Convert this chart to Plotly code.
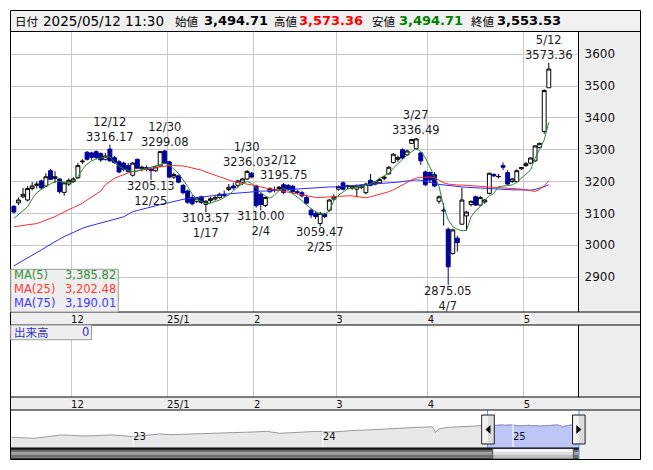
import plotly.graph_objects as go

# reference canvas size and page offset (browser body margin)
W, H = 653, 470
OX, OY = 8, 8
FW, FH = W - OX, H - OY

dates = [
    "2024-11-13", "2024-11-14", "2024-11-15", "2024-11-18", "2024-11-19", "2024-11-20", "2024-11-21",
    "2024-11-22", "2024-11-25", "2024-11-26", "2024-11-27", "2024-11-28", "2024-11-29",
    "2024-12-02", "2024-12-03", "2024-12-04", "2024-12-05", "2024-12-06", "2024-12-09", "2024-12-10",
    "2024-12-11", "2024-12-12", "2024-12-13", "2024-12-16", "2024-12-17", "2024-12-18", "2024-12-19",
    "2024-12-20", "2024-12-23", "2024-12-24", "2024-12-25", "2024-12-26", "2024-12-27", "2024-12-30",
    "2025-01-06", "2025-01-07", "2025-01-08", "2025-01-09", "2025-01-10", "2025-01-14", "2025-01-15",
    "2025-01-16", "2025-01-17", "2025-01-20", "2025-01-21", "2025-01-22", "2025-01-23", "2025-01-24",
    "2025-01-27", "2025-01-28", "2025-01-29", "2025-01-30", "2025-01-31",
    "2025-02-03", "2025-02-04", "2025-02-05", "2025-02-06", "2025-02-07", "2025-02-10", "2025-02-12",
    "2025-02-13", "2025-02-14", "2025-02-17", "2025-02-18", "2025-02-19", "2025-02-20", "2025-02-21",
    "2025-02-25", "2025-02-26", "2025-02-27", "2025-02-28",
    "2025-03-03", "2025-03-04", "2025-03-05", "2025-03-06", "2025-03-07", "2025-03-10", "2025-03-11",
    "2025-03-12", "2025-03-13", "2025-03-14", "2025-03-17", "2025-03-18", "2025-03-19", "2025-03-21",
    "2025-03-24", "2025-03-25", "2025-03-26", "2025-03-27", "2025-03-28", "2025-03-31",
    "2025-04-01", "2025-04-02", "2025-04-03", "2025-04-04", "2025-04-07", "2025-04-08", "2025-04-09",
    "2025-04-10", "2025-04-11", "2025-04-14", "2025-04-15", "2025-04-16", "2025-04-17", "2025-04-18",
    "2025-04-21", "2025-04-22", "2025-04-23", "2025-04-24", "2025-04-25", "2025-04-28", "2025-04-30",
    "2025-05-01", "2025-05-02", "2025-05-07", "2025-05-08", "2025-05-09", "2025-05-12",
]

opens = [
    3122, 3133, 3152, 3142, 3178, 3188, 3202, 3186, 3234, 3210, 3208, 3166, 3192,
    3200, 3212, 3262, 3292, 3290, 3294, 3288, 3270, 3302, 3275, 3262, 3258, 3250, 3220, 3270, 3240, 3244,
    3238, 3234, 3249, 3296,
    3262, 3214, 3218, 3188, 3170, 3150, 3138, 3152, 3128, 3140, 3145, 3150, 3160, 3175, 3186, 3188, 3198,
    3208, 3226,
    3186, 3160, 3125, 3168, 3175, 3178, 3190, 3188, 3185, 3168, 3165, 3150, 3110, 3100, 3068, 3098, 3110, 3145,
    3176, 3196, 3184, 3180, 3176, 3182, 3165, 3204, 3192, 3196, 3210, 3224, 3260, 3270, 3300, 3284, 3320,
    3304, 3290, 3230,
    3228, 3222, 3138, 3110, 3050, 2974, 3022, 3066, 3092, 3128, 3152, 3126, 3136, 3163, 3222, 3215, 3250,
    3228, 3200, 3200, 3240,
    3250, 3258, 3265, 3307, 3357, 3494.71,
]
highs = [
    3126, 3150, 3180, 3186, 3198, 3200, 3206, 3226, 3240, 3232, 3210, 3200, 3210,
    3214, 3258, 3270, 3296, 3294, 3298, 3292, 3290, 3316.17, 3280, 3268, 3262, 3258, 3262, 3272, 3250, 3250,
    3244, 3248, 3296, 3299.08,
    3265, 3228, 3222, 3192, 3175, 3158, 3152, 3156, 3142, 3152, 3158, 3165, 3172, 3192, 3196, 3206, 3212,
    3236.03, 3230,
    3190, 3165, 3152, 3182, 3184, 3186, 3195.75, 3192, 3190, 3174, 3170, 3156, 3115, 3108, 3105, 3102, 3145, 3160,
    3188, 3200, 3190, 3188, 3190, 3192, 3196, 3224, 3202, 3212, 3218, 3248, 3290, 3282, 3304, 3300, 3334,
    3336.49, 3294, 3235,
    3232, 3230, 3156, 3132, 3056, 3052, 3030, 3180, 3108, 3140, 3156, 3155, 3145, 3228, 3226, 3224, 3260,
    3236, 3212, 3238, 3246,
    3262, 3276, 3314, 3322, 3490, 3573.36,
]
lows = [
    3100, 3126, 3148, 3138, 3172, 3178, 3175, 3183, 3205, 3195, 3162, 3156, 3186,
    3196, 3208, 3255, 3266, 3268, 3270, 3262, 3266, 3262, 3256, 3226, 3232, 3228, 3215, 3240, 3232, 3232,
    3205.13, 3230, 3246, 3255,
    3210, 3208, 3195, 3160, 3130, 3125, 3132, 3130, 3103.57, 3132, 3140, 3146, 3150, 3170, 3174, 3180, 3190,
    3205, 3210,
    3118, 3110, 3120, 3165, 3166, 3170, 3160, 3172, 3160, 3160, 3150, 3128, 3085, 3082, 3059.47, 3085, 3105, 3140,
    3172, 3172, 3176, 3174, 3150, 3176, 3160, 3185, 3188, 3192, 3204, 3222, 3256, 3262, 3270, 3280, 3318,
    3300, 3252, 3185,
    3196, 3182, 3130, 3062, 2875.05, 2970, 2980, 3064, 3045, 3122, 3124, 3122, 3130, 3160, 3214, 3210, 3236,
    3190, 3196, 3196, 3236,
    3246, 3254, 3262, 3304, 3350, 3494.71,
]
closes = [
    3104, 3142, 3160, 3178, 3186, 3192, 3180, 3215, 3207, 3215, 3168, 3196, 3204,
    3208, 3250, 3264, 3270, 3276, 3276, 3268, 3280, 3265, 3260, 3230, 3238, 3232, 3258, 3242, 3245, 3238,
    3236, 3246, 3294, 3258,
    3214, 3222, 3198, 3165, 3135, 3130, 3148, 3134, 3138, 3146, 3150, 3160, 3156, 3182, 3180, 3202, 3208,
    3232, 3214,
    3124, 3128, 3150, 3178, 3172, 3182, 3166, 3176, 3168, 3166, 3155, 3132, 3095, 3090, 3100, 3090, 3142, 3152,
    3184, 3176, 3186, 3184, 3186, 3188, 3192, 3188, 3198, 3206, 3214, 3245, 3286, 3275, 3274, 3296, 3332,
    3334, 3265, 3190,
    3205, 3186, 3152, 3108, 2932, 3048, 3008, 3142, 3104, 3138, 3126, 3150, 3142, 3226, 3218, 3216, 3245,
    3192, 3208, 3234, 3244,
    3256, 3274, 3312, 3320, 3486, 3553.53,
]

ma5 = [
    3084, 3097, 3110, 3121, 3145, 3165, 3175, 3185, 3193, 3199, 3200, 3198, 3196,
    3198, 3215, 3238, 3255, 3265, 3271, 3274, 3277, 3278, 3260, 3248, 3240, 3235, 3231, 3233, 3238, 3242,
    3245, 3250, 3255, 3258,
    3252, 3240, 3226, 3205, 3185, 3160, 3145, 3137, 3130, 3132, 3137, 3142, 3150, 3158, 3170, 3184, 3193,
    3200, 3195,
    3180, 3165, 3155, 3148, 3157, 3172, 3179, 3172, 3162, 3152, 3140, 3126, 3115, 3105, 3098, 3097, 3108, 3140,
    3157, 3168, 3177, 3180, 3182, 3184, 3188, 3193, 3200, 3210, 3218, 3226, 3242, 3257, 3270, 3283, 3295,
    3304, 3294, 3275,
    3246, 3215, 3184, 3121, 3080, 3058, 3050, 3045, 3047, 3089, 3108, 3121, 3142, 3155, 3163, 3184, 3186,
    3188, 3189, 3198, 3210,
    3222, 3236, 3273, 3300, 3331, 3385.82,
]
ma25 = [
    3058, 3060, 3061, 3062, 3064, 3068, 3073, 3078, 3083, 3090, 3097, 3105, 3112,
    3118, 3125, 3132, 3142, 3152, 3160, 3170, 3190, 3200, 3210, 3216, 3222, 3227, 3231, 3234, 3237, 3239,
    3241, 3244, 3246, 3249,
    3250, 3250, 3250, 3249, 3246, 3243, 3240, 3236, 3230, 3225, 3220, 3214, 3208, 3203, 3200, 3197, 3195,
    3193, 3191,
    3187, 3183, 3179, 3177, 3175, 3172, 3170, 3167, 3164, 3161, 3158, 3155, 3152, 3150, 3150, 3151, 3152, 3154,
    3155, 3155, 3155, 3155, 3153, 3151, 3149, 3152, 3156, 3160, 3163, 3168, 3174, 3181, 3189, 3197, 3205,
    3211, 3213, 3214,
    3214, 3213, 3205, 3196, 3192, 3190, 3189, 3189, 3188, 3188, 3187, 3187, 3186, 3185, 3184, 3182, 3181,
    3180, 3179, 3178, 3176,
    3174, 3171, 3169, 3175, 3187, 3202.48,
]
ma75 = [
    2935, 2943, 2951, 2959, 2967, 2976, 2985, 2994, 3003, 3012, 3019, 3027, 3034,
    3041, 3047, 3053, 3058, 3062, 3066, 3070, 3074, 3078, 3082, 3086, 3089, 3097, 3105, 3109, 3113, 3117,
    3121, 3124, 3128, 3131,
    3134, 3138, 3141, 3144, 3146, 3148, 3150, 3152, 3154, 3156, 3158, 3159, 3160, 3161, 3163, 3164, 3165,
    3166, 3168,
    3169, 3170, 3170, 3171, 3172, 3172, 3173, 3174, 3175, 3176, 3177, 3178, 3180, 3182, 3182, 3183, 3183, 3183,
    3184, 3185, 3186, 3186, 3187, 3188, 3189, 3190, 3191, 3192, 3194, 3195, 3197, 3198, 3200, 3202, 3204,
    3205, 3204, 3200,
    3197, 3194, 3191, 3189, 3187, 3185, 3184, 3183, 3182, 3181, 3180, 3179, 3178, 3177, 3176, 3175, 3175,
    3174, 3174, 3174, 3173,
    3173, 3173, 3175, 3179, 3184, 3190.01,
]

# long-term overview (navigator) before the displayed window
nav_dates = [
    "2022-05-12", "2022-06-01", "2022-06-24", "2022-07-15", "2022-08-15", "2022-09-05", "2022-09-29",
    "2022-10-20", "2022-11-18", "2022-12-10", "2022-12-28", "2023-01-20", "2023-02-21", "2023-03-15",
    "2023-04-14", "2023-05-10", "2023-06-03", "2023-06-25", "2023-07-11", "2023-08-01", "2023-08-19",
    "2023-09-15", "2023-10-10", "2023-10-30", "2023-11-17", "2023-12-05", "2023-12-20", "2024-01-13",
    "2024-02-05", "2024-02-25", "2024-03-25", "2024-04-20", "2024-05-27", "2024-06-20", "2024-07-15",
    "2024-07-30", "2024-08-05", "2024-08-12", "2024-09-01", "2024-09-25", "2024-10-15", "2024-11-01",
]
nav_values = [
    1520, 1470, 1380, 1560, 1850, 1800, 1700, 1760, 1850, 1780, 1610, 1760, 1990, 1900,
    1950, 2050, 2090, 2150, 2170, 2230, 2270, 2370, 2090, 2130, 2170, 2300, 2370, 2270,
    2350, 2480, 2560, 2620, 2800, 2900, 3030, 3020, 2200, 2750, 2940, 3050, 3120, 3170,
]

price_ticks = [2900, 3000, 3100, 3200, 3300, 3400, 3500, 3600]
month_labels = ["12", "25/1", "2", "3", "4", "5"]
year_ticks = ["2023-01-01", "2024-01-01", "2025-01-01"]
year_labels = ["23", "24", "25"]
high_marks = ["2024-12-12", "2024-12-30", "2025-01-30", "2025-02-12", "2025-03-27", "2025-05-12"]
low_marks = ["2024-12-25", "2025-01-17", "2025-02-04", "2025-02-25", "2025-04-07"]
quote_time = "11:30"
volume_last = 0


def px(x):
    return (x - OX) / FW


def py(y):
    return 1 - (y - OY) / FH


FONT = "DejaVu Sans"
CJK = "Noto Sans CJK JP"
UP_C, DN_C = "black", "#000099"
GRID = "#c8c8c8"
PANEL = "#eeeeee"

idx = list(range(len(dates)))
month_pos = [i - 0.5 for i in range(1, len(dates)) if dates[i][5:7] != dates[i - 1][5:7]]

fig = go.Figure()
fig.add_trace(go.Candlestick(
    x=idx, open=opens, high=highs, low=lows, close=closes,
    increasing=dict(line=dict(color=UP_C, width=1), fillcolor="white"),
    decreasing=dict(line=dict(color=DN_C, width=1), fillcolor=DN_C),
    whiskerwidth=0, showlegend=False, hoverinfo="skip", xaxis="x", yaxis="y"))
for ser, col in ((ma75, "#2b2bff"), (ma25, "#ff2a2a"), (ma5, "#2a8a2a")):
    fig.add_trace(go.Scatter(x=idx, y=ser, mode="lines", line=dict(color=col, width=1),
                             showlegend=False, hoverinfo="skip", xaxis="x", yaxis="y"))

# volume pane (volume is 0 for an index)
fig.add_trace(go.Scatter(x=[idx[-1]], y=[volume_last], mode="markers", marker=dict(opacity=0),
                         showlegend=False, hoverinfo="skip", xaxis="x2", yaxis="y2"))

# navigator
nav_x = nav_dates + dates
nav_y = nav_values + closes
fig.add_trace(go.Scatter(x=nav_x, y=nav_y, mode="lines", line=dict(color="#9a9a9a", width=1),
                         fill="tozeroy", fillcolor="#e8e8e8", showlegend=False, hoverinfo="skip",
                         xaxis="x3", yaxis="y3"))
fig.add_trace(go.Scatter(x=dates, y=closes, mode="lines", line=dict(color="#8c8cd0", width=1),
                         fill="tozeroy", fillcolor="#bcc6f7", showlegend=False, hoverinfo="skip",
                         xaxis="x3", yaxis="y3"))

xr = [-0.63, 123.5]
axfont = dict(family=FONT, size=10, color="#111")
fig.update_layout(
    width=FW, height=FH, margin=dict(l=0, r=0, t=0, b=0), autosize=False,
    paper_bgcolor="white", plot_bgcolor="white", boxgap=0.15, boxgroupgap=0, showlegend=False,
    xaxis=dict(domain=[px(11), px(578.5)], range=xr, anchor="y", tickmode="array",
               tickvals=month_pos, ticktext=month_labels, showgrid=True, gridcolor=GRID,
               zeroline=False, showline=False, ticks="", ticklabelposition="outside right",
               tickfont=axfont, rangeslider=dict(visible=False), fixedrange=True),
    yaxis=dict(domain=[py(312), py(32)], range=[2790, 3670], anchor="x", side="right",
               tickmode="array", tickvals=price_ticks, ticktext=[str(v) for v in price_ticks],
               showgrid=True, gridcolor=GRID, zeroline=False, showline=False, ticks="",
               tickfont=dict(family=FONT, size=12, color="#111"), ticklabelstandoff=5),
    xaxis2=dict(domain=[px(11), px(578.5)], range=xr, anchor="y2", tickmode="array",
                tickvals=month_pos, ticktext=month_labels, showgrid=True, gridcolor=GRID,
                zeroline=False, showline=False, ticks="", ticklabelposition="outside right",
                tickfont=axfont),
    yaxis2=dict(domain=[py(397), py(325)], range=[0, 1], anchor="x2", showgrid=False,
                zeroline=False, showticklabels=False, ticks=""),
    xaxis3=dict(domain=[px(11), px(579)], type="date", range=["2022-05-11", "2025-05-08"],
                anchor="y3", tickmode="array", tickvals=year_ticks, ticktext=year_labels,
                showgrid=False, zeroline=False, showline=False, ticks="",
                ticklabelposition="inside right", tickfont=axfont),
    yaxis3=dict(domain=[py(448), py(410)], range=[0, 5400], anchor="x3", visible=False),
)

shapes = []


def rect(x0, y0, x1, y1, fill=None, line=None, lw=1, layer="above"):
    shapes.append(dict(type="rect", xref="paper", yref="paper", x0=px(x0), x1=px(x1),
                       y0=py(y1), y1=py(y0), fillcolor=fill or "rgba(0,0,0,0)",
                       line=dict(color=line or "rgba(0,0,0,0)", width=lw if line else 0),
                       layer=layer))


def seg(x0, y0, x1, y1, color="black", lw=1):
    shapes.append(dict(type="line", xref="paper", yref="paper", x0=px(x0), x1=px(x1),
                       y0=py(y0), y1=py(y1), line=dict(color=color, width=lw), layer="above"))


# background panels
rect(10.5, 10.5, 640.5, 31.5, fill="#f0f0f0", layer="below")
rect(578.5, 31.5, 640.5, 312, fill=PANEL, layer="below")
rect(10.5, 312, 640.5, 325, fill=PANEL, layer="below")
rect(578.5, 325, 640.5, 397, fill=PANEL, layer="below")
rect(10.5, 397, 640.5, 410, fill=PANEL, layer="below")
rect(579, 410, 640.5, 459.5, fill=PANEL, layer="below")

# scrollbar (gradient approximated by strips)
for y0, y1, c in ((448, 450, "#2c2c2c"), (450, 452.5, "#6a6a6a"), (452.5, 455, "#9a9a9a"),
                  (455, 457.5, "#707070"), (457.5, 459.5, "#3a3a3a")):
    rect(10.5, y0, 579, y1, fill=c)
for y0, y1, c in ((449, 452, "#f4f4f4"), (452, 455, "#dedede"), (455, 459, "#bdbdbd")):
    rect(492.7, y0, 573.3, y1, fill=c)
rect(492.7, 448.5, 573.3, 459, line="#555555")

# year separators on navigator
for t in year_ticks:
    shapes.append(dict(type="line", xref="x3", yref="paper", x0=t, x1=t, y0=py(447.5),
                       y1=py(423), line=dict(color="white", width=1), layer="above"))
# selection edges
shapes.append(dict(type="line", xref="x3", yref="paper", x0=dates[0], x1=dates[0],
                   y0=py(448), y1=py(410), line=dict(color="#5aa0e6", width=1), layer="above"))
seg(579, 410, 579, 459.5, color="#5aa0e6")

# frame lines
seg(10.5, 31.5, 640.5, 31.5)
seg(10.5, 312, 640.5, 312)
seg(10.5, 325, 640.5, 325)
seg(10.5, 397, 640.5, 397)
seg(10.5, 410, 640.5, 410)
seg(578.5, 31.5, 578.5, 312)
seg(578.5, 325, 578.5, 397)
seg(10.5, 448, 579, 448)
rect(10.5, 10.5, 640.5, 459.5, line="black")

# navigator handles
for cx, d in ((488, -1), (578.8, 1)):
    rect(cx - 6.3, 415, cx + 6.3, 444, fill="#dcdcdc", line="#222222")
    rect(cx - 5.5, 416, cx, 443, fill="#f2f2f2")
    tip = cx + 2.5 * d
    base = cx - 2.5 * d
    shapes.append(dict(type="path", xref="paper", yref="paper",
                       path=f"M {px(base)} {py(425)} L {px(tip)} {py(429.5)} L {px(base)} {py(434)} Z",
                       fillcolor="black", line=dict(color="black", width=0), layer="above"))

# MA legend box and volume box
rect(10.7, 269.3, 118.3, 312, fill=PANEL, line="#9a9a9a")
rect(10.7, 325, 91.5, 339.7, fill=PANEL, line="#9a9a9a")

fig.update_layout(shapes=shapes)

ann = []


def text(x, y, s, color="#000", size=12, family=FONT, anchor="left"):
    ann.append(dict(xref="paper", yref="paper", x=px(x), y=py(y), text=s, showarrow=False,
                    xanchor=anchor, yanchor="middle", font=dict(family=family, size=size, color=color)))


# header
hdr_y = 21
date_txt = dates[-1].replace("-", "/") + " " + quote_time
text(13.3, hdr_y, "日付", size=11.5, family=CJK)
text(41.0, hdr_y, date_txt, size=13.5)
text(172.8, hdr_y, "始値", size=11.5, family=CJK)
text(201.5, hdr_y, f"<b>{opens[-1]:,.2f}</b>", size=13)
text(271.5, hdr_y, "高値", size=11.5, family=CJK)
text(297.3, hdr_y, f"<b>{highs[-1]:,.2f}</b>", size=13, color="#ff0000")
text(369.8, hdr_y, "安値", size=11.5, family=CJK)
text(397.2, hdr_y, f"<b>{lows[-1]:,.2f}</b>", size=13, color="#008000")
text(468.5, hdr_y, "終値", size=11.5, family=CJK)
text(495.1, hdr_y, f"<b>{closes[-1]:,.2f}</b>", size=13)

# MA legend
for yy, name, val, col in ((275, "MA(5)", ma5[-1], "#3a8f3a"), (289.3, "MA(25)", ma25[-1], "#ff3a3a"),
                           (303.3, "MA(75)", ma75[-1], "#3a3aff")):
    text(11.5, yy, name, color=col, size=11.5)
    text(117.5, yy, f"{val:,.2f}", color=col, size=11.5, anchor="right")

text(11.5, 332.3, "出来高", color="#3333bb", size=11.5, family=CJK)
text(90.5, 332.3, str(volume_last), color="#3333bb", size=11.5, anchor="right")


def md(d):
    return f"{int(d[5:7])}/{int(d[8:10])}"


lab_font = dict(family=FONT, size=11.5, color="#1a1a1a")
for d in high_marks:
    i = dates.index(d)
    ann.append(dict(xref="x", yref="y", x=i, y=highs[i], text=f"{md(d)}<br>{highs[i]:.2f}",
                    showarrow=False, xanchor="center", yanchor="bottom", yshift=0, borderpad=0,
                    font=lab_font))
for d in low_marks:
    i = dates.index(d)
    ann.append(dict(xref="x", yref="y", x=i, y=lows[i], text=f"{lows[i]:.2f}<br>{md(d)}",
                    showarrow=False, xanchor="center", yanchor="top", yshift=2, borderpad=0,
                    font=lab_font))

fig.update_layout(annotations=ann)
fig.write_html("out.html")
